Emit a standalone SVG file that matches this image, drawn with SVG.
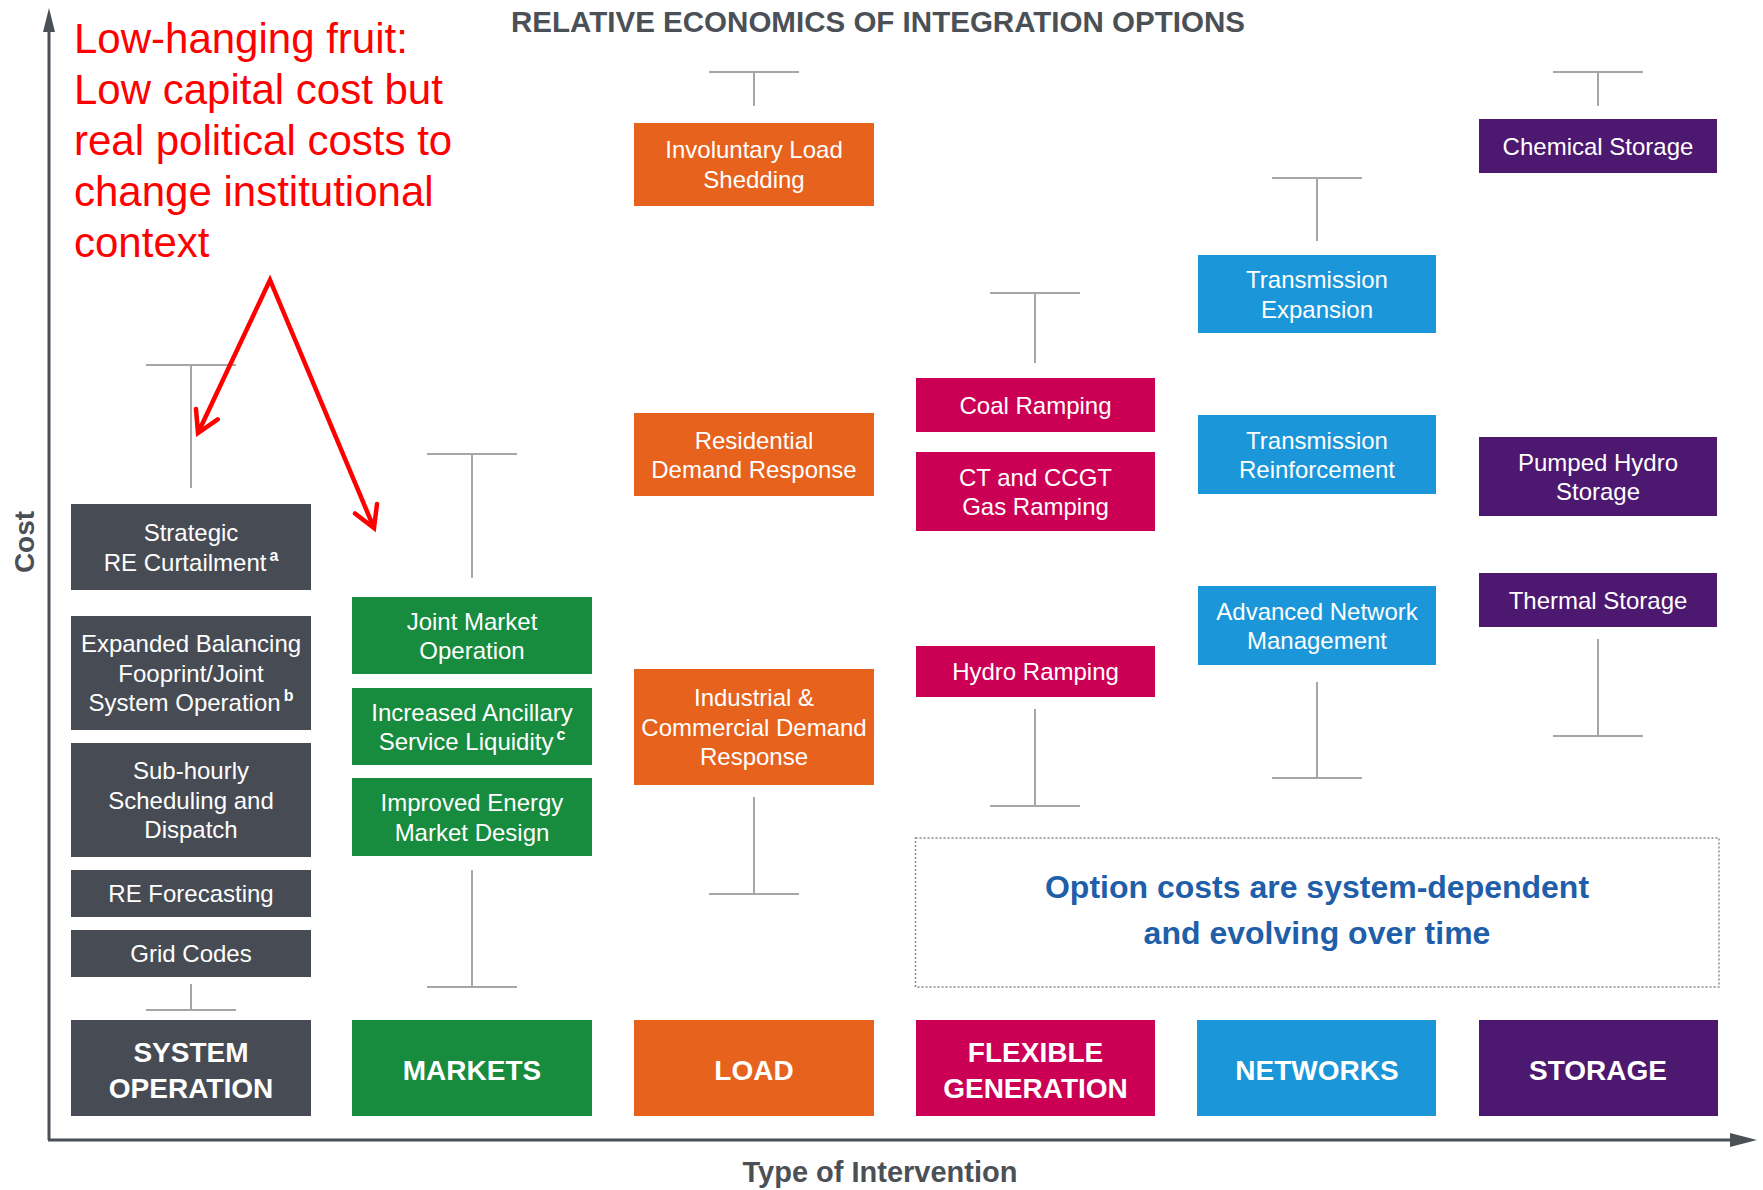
<svg xmlns="http://www.w3.org/2000/svg" width="1763" height="1190" viewBox="0 0 1763 1190">
<style>
.nt{font-family:"Liberation Sans",Arial,sans-serif;font-size:24px;fill:#ffffff;text-anchor:middle}
.ct{font-family:"Liberation Sans",Arial,sans-serif;font-size:28px;font-weight:bold;fill:#ffffff;text-anchor:middle}
.sup{font-size:16px;font-weight:bold}
.wh{stroke:#a6a6a6;stroke-width:2;fill:none}
.ax{font-family:"Liberation Sans",Arial,sans-serif;font-weight:bold;fill:#4b5057;text-anchor:middle}
.so{fill:#474c54}.mk{fill:#178b3e}.ld{fill:#e6621d}.fg{fill:#cb0055}.nw{fill:#1a96d9}.st{fill:#4d1870}
.red{font-family:"Liberation Sans",Arial,sans-serif;font-size:42px;fill:#ff0000}
.bt{font-family:"Liberation Sans",Arial,sans-serif;font-size:32px;font-weight:bold;fill:#1f5ea8;text-anchor:middle}
</style>
<rect width="1763" height="1190" fill="#ffffff"/>

<text class="ax" x="878" y="32" font-size="29" textLength="734" lengthAdjust="spacingAndGlyphs">RELATIVE ECONOMICS OF INTEGRATION OPTIONS</text>

<g id="axes">
<line x1="49" y1="1140" x2="49" y2="28" stroke="#4b5057" stroke-width="3"/>
<polygon points="49,8 43,32 55,32" fill="#4b5057"/>
<line x1="48" y1="1140" x2="1735" y2="1140" stroke="#4b5057" stroke-width="3"/>
<polygon points="1757,1140 1730,1133 1730,1147" fill="#4b5057"/>
<text class="ax" font-size="28" transform="translate(34,542) rotate(-90)">Cost</text>
<text class="ax" x="880" y="1182" font-size="29">Type of Intervention</text>
</g>

<g id="connectors">
<path class="wh" d="M146,365H236M191,365V488"/>
<path class="wh" d="M191,984V1010M146,1010H236"/>
<path class="wh" d="M427,454H517M472,454V578"/>
<path class="wh" d="M472,870V987M427,987H517"/>
<path class="wh" d="M709,72H799M754,72V106"/>
<path class="wh" d="M754,797V894M709,894H799"/>
<path class="wh" d="M990,293H1080M1035,293V363"/>
<path class="wh" d="M1035,709V806M990,806H1080"/>
<path class="wh" d="M1272,178H1362M1317,178V241"/>
<path class="wh" d="M1317,682V778M1272,778H1362"/>
<path class="wh" d="M1553,72H1643M1598,72V106"/>
<path class="wh" d="M1598,639V736M1553,736H1643"/>
</g>

<g id="col-system-operation">
<g id="strategic-re-curtailment"><rect class="so" x="71" y="504" width="240" height="86"/>
<text class="nt" x="191" y="541">Strategic</text>
<text class="nt" x="191" y="570.5">RE Curtailment<tspan class="sup" dx="3" dy="-10">a</tspan></text></g>
<g id="expanded-balancing"><rect class="so" x="71" y="616" width="240" height="114"/>
<text class="nt" x="191" y="652">Expanded Balancing</text>
<text class="nt" x="191" y="681.5">Fooprint/Joint</text>
<text class="nt" x="191" y="711">System Operation<tspan class="sup" dx="3" dy="-10">b</tspan></text></g>
<g id="sub-hourly"><rect class="so" x="71" y="743" width="240" height="114"/>
<text class="nt" x="191" y="779">Sub-hourly</text>
<text class="nt" x="191" y="808.5">Scheduling and</text>
<text class="nt" x="191" y="838">Dispatch</text></g>
<g id="re-forecasting"><rect class="so" x="71" y="870" width="240" height="47"/>
<text class="nt" x="191" y="902">RE Forecasting</text></g>
<g id="grid-codes"><rect class="so" x="71" y="930" width="240" height="47"/>
<text class="nt" x="191" y="962">Grid Codes</text></g>
<g id="cat-system-operation"><rect class="so" x="71" y="1020" width="240" height="96"/>
<text class="ct" x="191" y="1062">SYSTEM</text>
<text class="ct" x="191" y="1098">OPERATION</text></g>
</g>

<g id="col-markets">
<g id="joint-market"><rect class="mk" x="352" y="597" width="240" height="77"/>
<text class="nt" x="472" y="629.5">Joint Market</text>
<text class="nt" x="472" y="659">Operation</text></g>
<g id="ancillary"><rect class="mk" x="352" y="688" width="240" height="77"/>
<text class="nt" x="472" y="720.5">Increased Ancillary</text>
<text class="nt" x="472" y="750">Service Liquidity<tspan class="sup" dx="3" dy="-10">c</tspan></text></g>
<g id="energy-market-design"><rect class="mk" x="352" y="778" width="240" height="78"/>
<text class="nt" x="472" y="811">Improved Energy</text>
<text class="nt" x="472" y="840.5">Market Design</text></g>
<g id="cat-markets"><rect class="mk" x="352" y="1020" width="240" height="96"/>
<text class="ct" x="472" y="1080">MARKETS</text></g>
</g>

<g id="col-load">
<g id="involuntary"><rect class="ld" x="634" y="123" width="240" height="83"/>
<text class="nt" x="754" y="158">Involuntary Load</text>
<text class="nt" x="754" y="187.5">Shedding</text></g>
<g id="residential"><rect class="ld" x="634" y="413" width="240" height="83"/>
<text class="nt" x="754" y="448.5">Residential</text>
<text class="nt" x="754" y="478">Demand Response</text></g>
<g id="industrial"><rect class="ld" x="634" y="669" width="240" height="116"/>
<text class="nt" x="754" y="706">Industrial &amp;</text>
<text class="nt" x="754" y="735.5">Commercial Demand</text>
<text class="nt" x="754" y="765">Response</text></g>
<g id="cat-load"><rect class="ld" x="634" y="1020" width="240" height="96"/>
<text class="ct" x="754" y="1080">LOAD</text></g>
</g>

<g id="col-flexible-generation">
<g id="coal"><rect class="fg" x="916" y="378" width="239" height="54"/>
<text class="nt" x="1035.5" y="413.5">Coal Ramping</text></g>
<g id="ct-ccgt"><rect class="fg" x="916" y="452" width="239" height="79"/>
<text class="nt" x="1035.5" y="485.5">CT and CCGT</text>
<text class="nt" x="1035.5" y="515">Gas Ramping</text></g>
<g id="hydro-ramping"><rect class="fg" x="916" y="646" width="239" height="51"/>
<text class="nt" x="1035.5" y="680">Hydro Ramping</text></g>
<g id="cat-flexible-generation"><rect class="fg" x="916" y="1020" width="239" height="96"/>
<text class="ct" x="1035.5" y="1062">FLEXIBLE</text>
<text class="ct" x="1035.5" y="1098">GENERATION</text></g>
</g>

<g id="col-networks">
<g id="transmission-expansion"><rect class="nw" x="1198" y="255" width="238" height="78"/>
<text class="nt" x="1317" y="288">Transmission</text>
<text class="nt" x="1317" y="317.5">Expansion</text></g>
<g id="transmission-reinforcement"><rect class="nw" x="1198" y="415" width="238" height="79"/>
<text class="nt" x="1317" y="448.5">Transmission</text>
<text class="nt" x="1317" y="478">Reinforcement</text></g>
<g id="advanced-network"><rect class="nw" x="1198" y="586" width="238" height="79"/>
<text class="nt" x="1317" y="619.5">Advanced Network</text>
<text class="nt" x="1317" y="649">Management</text></g>
<g id="cat-networks"><rect class="nw" x="1197" y="1020" width="239" height="96"/>
<text class="ct" x="1317" y="1080">NETWORKS</text></g>
</g>

<g id="col-storage">
<g id="chemical-storage"><rect class="st" x="1479" y="119" width="238" height="54"/>
<text class="nt" x="1598" y="154.5">Chemical Storage</text></g>
<g id="pumped-hydro"><rect class="st" x="1479" y="437" width="238" height="79"/>
<text class="nt" x="1598" y="470.5">Pumped Hydro</text>
<text class="nt" x="1598" y="500">Storage</text></g>
<g id="thermal-storage"><rect class="st" x="1479" y="573" width="238" height="54"/>
<text class="nt" x="1598" y="608.5">Thermal Storage</text></g>
<g id="cat-storage"><rect class="st" x="1479" y="1020" width="239" height="96"/>
<text class="ct" x="1598" y="1080">STORAGE</text></g>
</g>

<g id="note">
<rect x="915.5" y="838" width="803.5" height="149" fill="none" stroke="#8a8a8a" stroke-width="1.5" stroke-dasharray="2,2"/>
<text class="bt" x="1317" y="898">Option costs are system-dependent</text>
<text class="bt" x="1317" y="944">and evolving over time</text>
</g>

<g id="annotation">
<text class="red" x="74" y="53">Low-hanging fruit:</text>
<text class="red" x="74" y="104">Low capital cost but</text>
<text class="red" x="74" y="155">real political costs to</text>
<text class="red" x="74" y="206">change institutional</text>
<text class="red" x="74" y="257">context</text>
<path d="M198,433 L270,280 L374,528 M196,409 L198,433 L217.7,419.3 M377,504 L374,528 L355,513.5" fill="none" stroke="#ff0000" stroke-width="4.5" stroke-linejoin="miter" stroke-linecap="round"/>
</g>
</svg>
